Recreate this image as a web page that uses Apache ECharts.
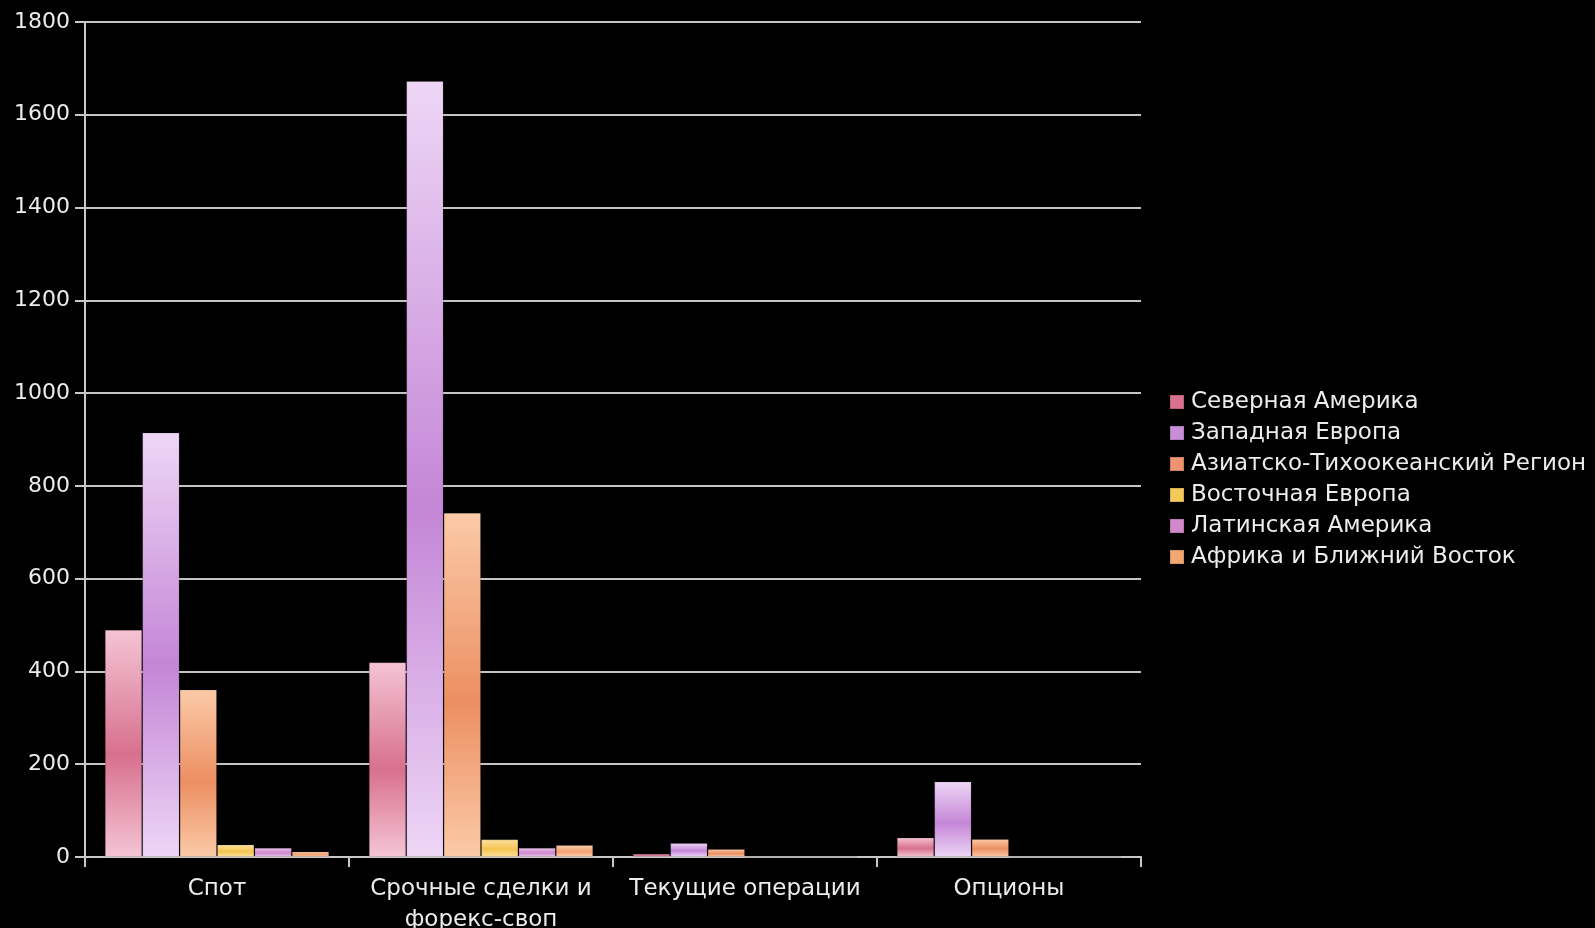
<!DOCTYPE html>
<html>
<head>
<meta charset="utf-8">
<script src="https://cdn.jsdelivr.net/npm/echarts@6/dist/echarts.min.js"></script>
<style>
html,body{margin:0;padding:0;background:#000;}
#chart{width:1595px;height:928px;}
</style>
</head>
<body>
<div id="chart"></div>
<script>
const categories = ['Спот', 'Срочные сделки и\nфорекс-своп', 'Текущие операции', 'Опционы'];
const seriesNames = ['Северная Америка', 'Западная Европа', 'Азиатско-Тихоокеанский Регион', 'Восточная Европа', 'Латинская Америка', 'Африка и Ближний Восток'];
const northAmerica = [490, 420, 7, 42];
const westernEurope = [915, 1673, 30, 163];
const asiaPacific = [361, 742, 17, 39];
const easternEurope = [27, 38, 0, 0];
const latinAmerica = [20, 20, 0, 0];
const africaMiddleEast = [12, 26, 0, 0];
const yTicks = [0, 200, 400, 600, 800, 1000, 1200, 1400, 1600, 1800];

const values = [northAmerica, westernEurope, asiaPacific, easternEurope, latinAmerica, africaMiddleEast];
const palette = [
  {light: '#f4c4d4', mid: '#d8708f', legend: '#d8708f'},
  {light: '#eed6f6', mid: '#c486d6', legend: '#c88ed8'},
  {light: '#fbcaa8', mid: '#ec8f62', legend: '#ef9370'},
  {light: '#fbe2a0', mid: '#f5c452', legend: '#f5c85a'},
  {light: '#ecc6ec', mid: '#cc86cc', legend: '#d488cc'},
  {light: '#fcd0b0', mid: '#f0a070', legend: '#f2a870'}
];

function grad(p) {
  return new echarts.graphic.LinearGradient(0, 0, 0, 1, [
    {offset: 0, color: p.light},
    {offset: 0.55, color: p.mid},
    {offset: 1, color: p.light}
  ]);
}

const chart = echarts.init(document.getElementById('chart'), null, {renderer: 'canvas'});
const font = 'DejaVu Sans';
chart.setOption({
  backgroundColor: '#000',
  animation: false,
  grid: {left: 85, right: 454, top: 22, bottom: 71, containLabel: false, outerBoundsMode: 'none'},
  legend: {
    orient: 'vertical',
    left: 1164,
    top: 385,
    itemWidth: 14,
    itemHeight: 14,
    itemGap: 7,
    icon: 'rect',
    textStyle: {color: '#ececec', fontFamily: font, fontSize: 23, lineHeight: 24, padding: [0, 0, 0, 2]},
    data: seriesNames.map((n, i) => ({name: n, itemStyle: {color: palette[i].legend}}))
  },
  xAxis: {
    type: 'category',
    data: categories,
    boundaryGap: true,
    axisLine: {lineStyle: {color: '#c8c8c8', width: 2}},
    axisTick: {show: true, length: 10, inside: false, alignWithLabel: false, lineStyle: {color: '#c8c8c8', width: 2}},
    axisLabel: {color: '#ececec', fontFamily: font, fontSize: 23, lineHeight: 31, margin: 17, interval: 0}
  },
  yAxis: {
    type: 'value',
    min: yTicks[0],
    max: yTicks[yTicks.length - 1],
    interval: 200,
    axisLine: {show: true, lineStyle: {color: '#c8c8c8', width: 2}},
    axisTick: {show: true, length: 10, inside: false, lineStyle: {color: '#c8c8c8', width: 2}},
    axisLabel: {color: '#ececec', fontFamily: font, fontSize: 22, margin: 15, formatter: v => String(v)},
    splitLine: {show: true, lineStyle: {color: '#c4c4c4', width: 2}}
  },
  series: seriesNames.map((n, i) => ({
    name: n,
    type: 'bar',
    data: values[i],
    barGap: '0%',
    barCategoryGap: '15%',
    itemStyle: {color: grad(palette[i]), borderColor: 'rgba(0,0,0,0.12)', borderWidth: 1}
  }))
});
</script>
</body>
</html>
